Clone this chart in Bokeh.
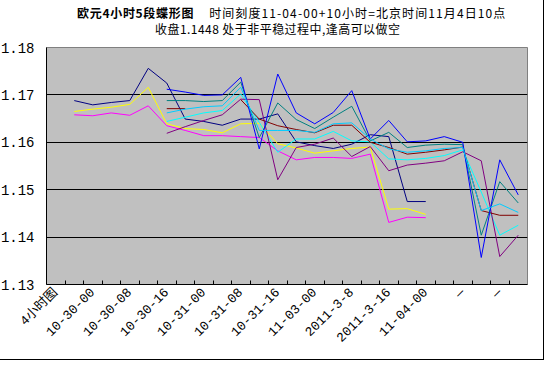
import numpy as np
from bokeh.plotting import figure
from bokeh.models import FixedTicker, Range1d, Div
from bokeh.layouts import column
from bokeh.embed import file_html
from bokeh.resources import INLINE

N_CATEGORIES = 26
tick_labels = ["4小时图", "10-30-00", "10-30-08", "10-30-16", "10-31-00", "10-31-08",
               "10-31-16", "11-03-00", "2011-3-8", "2011-3-16", "11-04-00", "—", "—"]
y_ticks = [1.13, 1.14, 1.15, 1.16, 1.17, 1.18]

N = None
navy = [N, 1.1688, 1.1679, 1.1684, 1.1688, 1.1756, 1.1725, 1.1649, 1.1644, 1.1636, 1.1649, 1.1649,
        1.1660, 1.1601, 1.1593, 1.1587, 1.1596, 1.1616, 1.1612, 1.1475, 1.1475, N, N, N, N, N]
magenta = [N, 1.1658, 1.1656, 1.1662, 1.1657, 1.1677, 1.1635, 1.1625, 1.1614, 1.1614, 1.1612, 1.1610,
           1.1582, 1.1563, 1.1568, 1.1568, 1.1566, 1.1575, 1.1431, 1.1442, 1.1441, N, N, N, N, N]
yellow = [N, 1.1665, 1.1670, 1.1674, 1.1680, 1.1716, 1.1639, 1.1629, 1.1627, 1.1620, 1.1639, 1.1640,
          1.1597, 1.1588, 1.1577, 1.1582, 1.1587, 1.1590, 1.1459, 1.1460, 1.1448, N, N, N, N, N]
cyan = [N, N, N, N, N, N, 1.1644, 1.1653, 1.1662, 1.1667, 1.1702, 1.1642, 1.1579, 1.1607, 1.1607,
        1.1623, 1.1603, 1.1601, 1.1565, 1.1563, 1.1566, 1.1572, 1.1584, 1.1495, 1.1404, 1.1425]
purple = [N, N, N, N, N, N, 1.1619, 1.1633, 1.1646, 1.1658, 1.1691, 1.1690, 1.1521, 1.1589, 1.1596,
          1.1609, 1.1570, 1.1591, 1.1540, 1.1552, 1.1556, 1.1561, 1.1580, 1.1561, 1.1359, 1.1404]
maroon = [N, N, N, N, N, N, 1.1671, 1.1671, N, N, 1.1690, 1.1649, 1.1635, 1.1627, 1.1620,
          1.1636, 1.1636, 1.1600, 1.1589, 1.1575, 1.1579, 1.1584, 1.1590, 1.1456, 1.1446, 1.1446]
teal = [N, N, N, N, N, N, 1.1688, 1.1688, 1.1686, 1.1688, 1.1727, 1.1610, 1.1683, 1.1648, 1.1629,
        1.1653, 1.1676, 1.1603, 1.1621, 1.1589, 1.1594, 1.1596, 1.1595, 1.1404, 1.1517, 1.1472]
blue = [N, N, N, N, N, N, 1.1712, 1.1706, 1.1699, 1.1700, 1.1737, 1.1586, 1.1744, 1.1662, 1.1639,
        1.1663, 1.1709, 1.1607, 1.1646, 1.1601, 1.1603, 1.1612, 1.1600, 1.1357, 1.1563, 1.1489]
skyblue = [N, N, N, N, N, N, 1.1662, 1.1670, 1.1675, 1.1677, 1.1716, 1.1625, 1.1625, 1.1625, 1.1621,
           1.1639, 1.1641, 1.1607, 1.1586, 1.1579, 1.1582, 1.1587, 1.1589, 1.1456, 1.1470, 1.1452]

series = [
    (navy, "#000080"), (magenta, "#FF00FF"), (yellow, "#FFFF00"), (cyan, "#00FFFF"),
    (purple, "#800080"), (maroon, "#800000"), (teal, "#008080"), (blue, "#0000FF"),
    (skyblue, "#00CCFF"),
]

title_bold = "欧元4小时5段蝶形图"
title_rest = "时间刻度11-04-00+10小时=北京时间11月4日10点"
title_line2 = "收盘1.1448 处于非平稳过程中,逢高可以做空"

W = 536
DIV_H = 35
H = 318
ML, MR, MT, MB = 48, 6, 6, 75
Y0, Y1 = 1.13, 1.18

x = np.arange(N_CATEGORIES) + 0.5

p = figure(width=W, height=H, output_backend="svg", toolbar_location=None,
           x_range=Range1d(0, N_CATEGORIES), y_range=Range1d(Y0, Y1),
           min_border_left=ML, min_border_right=MR, min_border_top=MT, min_border_bottom=MB)
p.background_fill_color = "#C0C0C0"
p.border_fill_color = "white"
p.outline_line_color = "#808080"
p.outline_line_width = 1

for vals, col in series:
    y = np.array([np.nan if v is None else v for v in vals], dtype=float)
    p.line(x, y, line_color=col, line_width=1)

# x axis
major = [0.5 + 2 * k for k in range(len(tick_labels))]
minor = list(range(1, N_CATEGORIES))
p.xaxis.ticker = FixedTicker(ticks=major, minor_ticks=minor)
p.xaxis.major_label_overrides = {m: t for m, t in zip(major, tick_labels)}
p.xaxis.major_label_orientation = np.pi / 4
p.xaxis.major_tick_in = 0
p.xaxis.major_tick_out = 0
p.xaxis.minor_tick_in = 4
p.xaxis.minor_tick_out = 0
p.xaxis.minor_tick_line_color = "black"
p.xaxis.axis_line_color = "black"
p.xaxis.major_label_text_font = "'Liberation Mono', 'Noto Sans CJK SC'"
p.xaxis.major_label_text_font_size = "13px"
p.xaxis.major_label_text_color = "black"
p.xaxis.major_label_standoff = 6
p.xgrid.visible = False

# y axis
p.yaxis.ticker = FixedTicker(ticks=y_ticks)
p.yaxis.major_label_overrides = {t: f"{t:.2f}" for t in y_ticks}
p.yaxis.major_tick_in = 0
p.yaxis.major_tick_out = 0
p.yaxis.minor_tick_in = 0
p.yaxis.minor_tick_out = 0
p.yaxis.axis_line_color = "black"
p.yaxis.major_label_text_font = "Liberation Mono"
p.yaxis.major_label_text_font_size = "14px"
p.yaxis.major_label_text_color = "black"
p.yaxis.major_label_standoff = 12
p.ygrid.ticker = FixedTicker(ticks=y_ticks[1:-1])
p.ygrid.grid_line_color = "black"
p.ygrid.grid_line_width = 1
p.ygrid.grid_line_alpha = 1

line_style = ("position:absolute; white-space:nowrap; font-family:'Noto Sans CJK SC'; "
              "font-size:12px; line-height:17px; color:black;")
title_html = (
    f"<div style='position:relative; width:{W}px; height:{DIV_H}px;'>"
    f"<div style=\"{line_style} left:75px; top:3px;\">"
    f"<span style='font-weight:bold; letter-spacing:0.7px;'>{title_bold}</span>"
    f"<span style='margin-left:15px; letter-spacing:1.1px;'>{title_rest}</span></div>"
    f"<div style=\"{line_style} left:153px; top:19px; letter-spacing:0.45px;\">{title_line2}</div>"
    f"</div>"
)
div = Div(text=title_html, width=W, height=DIV_H,
          styles={"background-color": "white"})

layout = column(div, p, spacing=0, margin=(-5, 0, 0, -4),
                styles={"border": "1px solid black", "background-color": "white"})

open("out.html", "w").write(file_html(layout, INLINE))
